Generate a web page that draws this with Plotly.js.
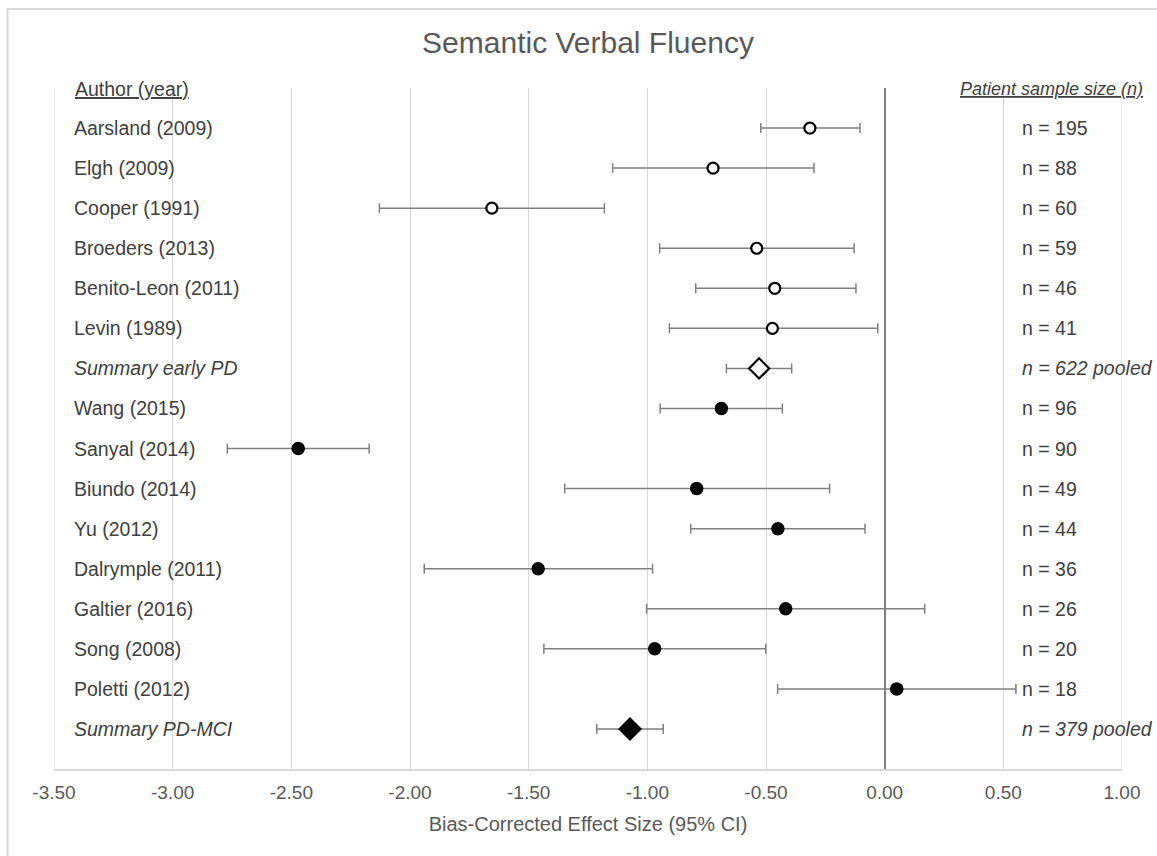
<!DOCTYPE html>
<html>
<head>
<meta charset="utf-8">
<script src="https://cdn.plot.ly/plotly-3.0.1.min.js"></script>
<style>
  html, body { margin: 0; padding: 0; background: #ffffff; }
  #chart { width: 1157px; height: 856px; }
</style>
</head>
<body>
<div id="chart"></div>
<script>
// Studies, top to bottom
const authors = [
  'Aarsland (2009)', 'Elgh (2009)', 'Cooper (1991)', 'Broeders (2013)',
  'Benito-Leon (2011)', 'Levin (1989)', 'Summary early PD',
  'Wang (2015)', 'Sanyal (2014)', 'Biundo (2014)', 'Yu (2012)',
  'Dalrymple (2011)', 'Galtier (2016)', 'Song (2008)', 'Poletti (2012)',
  'Summary PD-MCI'
];
// Row kind: early PD study, early PD pooled summary, PD-MCI study, PD-MCI pooled summary
const rowKind = [
  'early', 'early', 'early', 'early', 'early', 'early', 'earlySummary',
  'mci', 'mci', 'mci', 'mci', 'mci', 'mci', 'mci', 'mci', 'mciSummary'
];
// Bias-corrected effect size (Hedges' g) with 95% CI
const effectSize = [
  -0.315, -0.723, -1.655, -0.539, -0.463, -0.473, -0.529,
  -0.688, -2.471, -0.792, -0.450, -1.460, -0.417, -0.969, 0.051, -1.073
];
const ciLower = [
  -0.522, -1.146, -2.129, -0.948, -0.796, -0.907, -0.667,
  -0.946, -2.770, -1.348, -0.817, -1.940, -1.003, -1.436, -0.451, -1.213
];
const ciUpper = [
  -0.104, -0.298, -1.181, -0.129, -0.121, -0.029, -0.392,
  -0.431, -2.172, -0.232, -0.083, -0.978, 0.169, -0.501, 0.553, -0.933
];
// Patient sample sizes
const sampleSize = [195, 88, 60, 59, 46, 41, 622, 96, 90, 49, 44, 36, 26, 20, 18, 379];

// Axis ticks
const tickValues = [-3.5, -3.0, -2.5, -2.0, -1.5, -1.0, -0.5, 0.0, 0.5, 1.0];
const tickLabels = ['-3.50', '-3.00', '-2.50', '-2.00', '-1.50', '-1.00', '-0.50', '0.00', '0.50', '1.00'];

const nRows = authors.length;
// row position: first study at the top
const rowY = authors.map((_, i) => nRows - i);

const FONT = 'Liberation Sans, Arial, sans-serif';
const ERR_COLOR = '#808080';
const GRID_COLOR = '#d9d9d9';

function makeTrace(kind, marker) {
  const idx = [];
  rowKind.forEach((k, i) => { if (k === kind) idx.push(i); });
  return {
    type: 'scatter',
    mode: 'markers',
    x: idx.map(i => effectSize[i]),
    y: idx.map(i => rowY[i]),
    error_x: {
      type: 'data',
      symmetric: false,
      array: idx.map(i => ciUpper[i] - effectSize[i]),
      arrayminus: idx.map(i => effectSize[i] - ciLower[i]),
      color: ERR_COLOR,
      thickness: 1.5,
      width: 5
    },
    marker: marker,
    hoverinfo: 'skip',
    showlegend: false,
    cliponaxis: false
  };
}

const traces = [
  makeTrace('early', { symbol: 'circle', size: 11, color: '#ffffff', line: { color: '#000000', width: 2.2 } }),
  makeTrace('earlySummary', { symbol: 'diamond', size: 15.5, color: '#ffffff', line: { color: '#000000', width: 2.2 } }),
  makeTrace('mci', { symbol: 'circle', size: 13.5, color: '#000000', line: { color: '#000000', width: 0 } }),
  makeTrace('mciSummary', { symbol: 'diamond', size: 18.5, color: '#000000', line: { color: '#000000', width: 0 } })
];

const annotations = [];
// author labels on the left, sample sizes on the right
authors.forEach((name, i) => {
  const summary = rowKind[i].indexOf('Summary') >= 0;
  annotations.push({
    xref: 'paper', yref: 'y', x: 0.0165, y: rowY[i],
    xanchor: 'left', yanchor: 'middle', showarrow: false,
    text: summary ? '<i>' + name + '</i>' : name,
    font: { family: FONT, size: 19.5, color: '#404040' }
  });
  const nText = 'n = ' + sampleSize[i] + (summary ? ' pooled' : '');
  annotations.push({
    xref: 'paper', yref: 'y', x: 0.9045, y: rowY[i],
    xanchor: 'left', yanchor: 'middle', showarrow: false,
    text: summary ? '<i>' + nText + '</i>' : nText,
    font: { family: FONT, size: 19.5, color: '#404040' }
  });
});
// column headers
annotations.push({
  xref: 'paper', yref: 'y', x: 0.0175, y: nRows + 0.98,
  xanchor: 'left', yanchor: 'middle', showarrow: false,
  text: '<span style="text-decoration:underline">Author (year)</span>',
  font: { family: FONT, size: 19.5, color: '#404040' }
});
annotations.push({
  xref: 'paper', yref: 'y', x: 0.8465, y: nRows + 0.98,
  xanchor: 'left', yanchor: 'middle', showarrow: false,
  text: '<span style="text-decoration:underline"><i>Patient sample size (n)</i></span>',
  font: { family: FONT, size: 18, color: '#404040' }
});

// vertical gridlines at both ends of the x range
const edgeLines = [tickValues[0], tickValues[tickValues.length - 1]].map(v => ({
  type: 'line', xref: 'x', yref: 'paper',
  x0: v, x1: v, y0: 0, y1: 1,
  line: { color: GRID_COLOR, width: 1 },
  layer: 'below'
}));

const layout = {
  width: 1157,
  height: 856,
  margin: { l: 54, r: 35, t: 88, b: 87 },
  paper_bgcolor: '#ffffff',
  plot_bgcolor: '#ffffff',
  font: { family: FONT, color: '#595959' },
  title: {
    text: 'Semantic Verbal Fluency',
    font: { family: FONT, size: 30, color: '#595959' },
    x: 0.5, xref: 'paper',
    y: 0.95, yref: 'container', yanchor: 'middle'
  },
  xaxis: {
    range: [-3.5, 1.0],
    tickmode: 'array',
    tickvals: tickValues,
    ticktext: tickLabels,
    tickfont: { family: FONT, size: 19, color: '#595959' },
    ticks: '',
    ticklabelstandoff: 5,
    showgrid: true,
    gridcolor: GRID_COLOR,
    gridwidth: 1,
    zeroline: true,
    zerolinecolor: '#7f7f7f',
    zerolinewidth: 2,
    showline: true,
    linecolor: GRID_COLOR,
    linewidth: 2,
    fixedrange: true,
    title: {
      text: 'Bias-Corrected Effect Size (95% CI)',
      font: { family: FONT, size: 20, color: '#595959' },
      standoff: 15
    }
  },
  yaxis: {
    range: [0, nRows + 1],
    showgrid: false,
    zeroline: false,
    showline: false,
    showticklabels: false,
    ticks: '',
    fixedrange: true
  },
  shapes: [{
    type: 'rect', xref: 'paper', yref: 'paper',
    x0: -0.0435, x1: 1.05, y0: -0.14, y1: 1.116,
    line: { color: GRID_COLOR, width: 2 },
    fillcolor: 'rgba(0,0,0,0)',
    layer: 'below'
  }].concat(edgeLines),
  annotations: annotations
};

Plotly.newPlot('chart', traces, layout, { displayModeBar: false, staticPlot: true });
</script>
</body>
</html>
